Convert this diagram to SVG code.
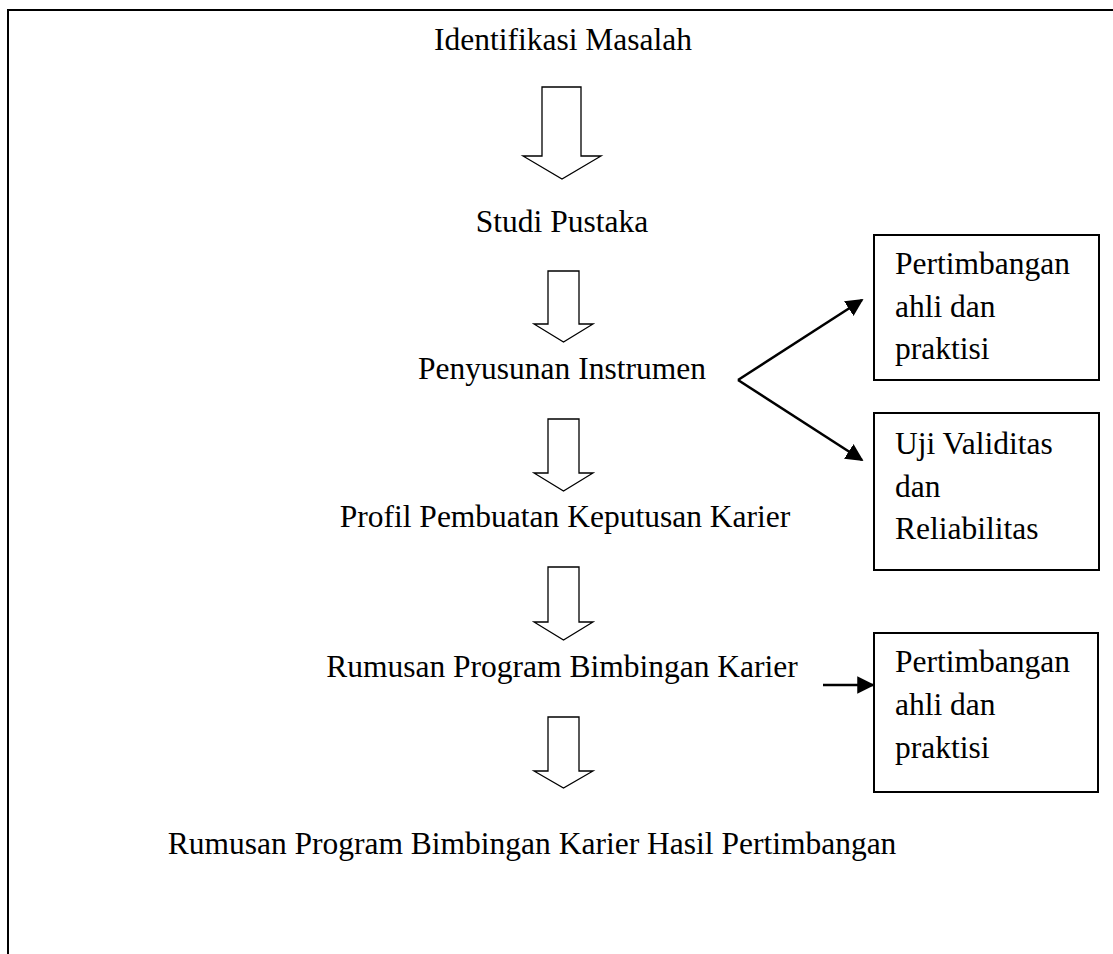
<svg xmlns="http://www.w3.org/2000/svg" width="1113" height="954" viewBox="0 0 1113 954">
<style>
text{font-family:"Liberation Serif","Times New Roman",serif;font-size:31.5px;fill:#000}
.c{text-anchor:middle}
.blk{fill:#fff;stroke:#000;stroke-width:1.3}
.box{fill:#fff;stroke:#000;stroke-width:2}
.ln{fill:none;stroke:#000;stroke-width:2.5}
</style>
<defs>
<marker id="ah" viewBox="0 0 10 10" refX="9" refY="5" markerWidth="6" markerHeight="6" markerUnits="userSpaceOnUse" orient="auto">
<path d="M0,0 L10,5 L0,10 Z" fill="#000"/>
</marker>
<marker id="ah2" viewBox="0 0 10 10" refX="9" refY="5" markerWidth="7" markerHeight="7" orient="auto">
<path d="M0,0 L10,5 L0,10 Z" fill="#000"/>
</marker>
</defs>
<path d="M8,954 L8,10 L1113,10" fill="none" stroke="#000" stroke-width="2"/>
<g id="n1"><text class="c" x="563" y="50">Identifikasi Masalah</text></g>
<g id="n2"><text class="c" x="562" y="232">Studi Pustaka</text></g>
<g id="n3"><text class="c" x="562" y="379">Penyusunan Instrumen</text></g>
<g id="n4"><text class="c" x="565" y="527">Profil Pembuatan Keputusan Karier</text></g>
<g id="n5"><text class="c" x="562" y="677">Rumusan Program Bimbingan Karier</text></g>
<g id="n6"><text class="c" x="532" y="854">Rumusan Program Bimbingan Karier Hasil Pertimbangan</text></g>
<g id="b1"><rect class="box" x="874" y="235" width="225" height="145"/>
<text x="895" y="274">Pertimbangan</text><text x="895" y="317">ahli dan</text><text x="895" y="359">praktisi</text></g>
<g id="b2"><rect class="box" x="874" y="413" width="225" height="157"/>
<text x="895" y="454">Uji Validitas</text><text x="895" y="497">dan</text><text x="895" y="539">Reliabilitas</text></g>
<g id="b3"><rect class="box" x="874" y="633" width="224" height="159"/>
<text x="895" y="672">Pertimbangan</text><text x="895" y="715">ahli dan</text><text x="895" y="758">praktisi</text></g>
<g id="connectors">
<path class="blk" d="M542,87 L581,87 L581,156 L601,156 L562,179 L523,156 L542,156 Z"/>
<path class="blk" d="M548,271 L579,271 L579,324 L593,324 L563.5,342 L534,324 L548,324 Z"/>
<path class="blk" d="M548,419 L579,419 L579,473 L593,473 L563.5,491 L534,473 L548,473 Z"/>
<path class="blk" d="M548,567 L579,567 L579,622 L593,622 L563.5,640 L534,622 L548,622 Z"/>
<path class="blk" d="M548,717 L579,717 L579,771 L593,771 L563.5,788 L534,771 L548,771 Z"/>
<line class="ln" x1="738" y1="380" x2="862" y2="300" marker-end="url(#ah2)"/>
<line class="ln" x1="738" y1="380" x2="862" y2="460" marker-end="url(#ah2)"/>
<line class="ln" x1="823" y1="685" x2="873" y2="685" marker-end="url(#ah2)"/>
</g>
</svg>
